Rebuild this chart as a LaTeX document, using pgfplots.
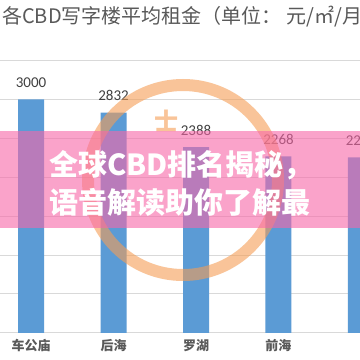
\documentclass[border=0pt]{standalone}
\usepackage{fontspec}
\setmainfont{Noto Sans CJK SC}
\newfontfamily\numfont{Carlito}
\usepackage{pgfplots}
\pgfplotsset{compat=1.18}

\definecolor{barblue}{RGB}{91,155,213}
\definecolor{gridgray}{RGB}{217,217,217}
\definecolor{labelgray}{RGB}{89,89,89}
\definecolor{valgray}{RGB}{64,64,64}
\definecolor{bandpink}{RGB}{248,103,168}
\definecolor{ringorange}{RGB}{245,158,85}

\begin{document}
\begin{tikzpicture}[x=1pt,y=1pt]
\clip (0,0) rectangle (360,360);
\fill[white] (0,0) rectangle (360,360);

% chart title, runs past the right edge
\node[anchor=west, inner sep=0pt, text=labelgray, font=\fontsize{20}{20}\selectfont]
  at (2,343) {各CBD写字楼平均租金（单位： 元/㎡/月）};

\begin{axis}[
  at={(0,35)}, anchor=south west,
  scale only axis, width=360pt, height=272.2pt,
  xmin=-0.376, xmax=3.988,
  ymin=0, ymax=3500,
  ytick={0,500,...,3500},
  yticklabels={},
  ymajorgrids, grid style={gridgray, line width=0.8pt},
  axis x line*=bottom, axis y line*=left,
  y axis line style={draw=none},
  x axis line style={gridgray, line width=0.8pt},
  xtick={0,1,2,3,4},
  xticklabels={车公庙,后海,罗湖,前海,宝安},
  major tick length=0pt,
  xticklabel style={text=labelgray, font=\fontsize{13}{13}\selectfont\bfseries, yshift=-3pt},
  ybar, bar width=26pt,
  nodes near coords,
  /pgf/number format/assume math mode=true,
  /pgf/number format/1000 sep={},
  every node near coord/.append style={anchor=south, inner sep=0pt, yshift=11.5pt,
    text=valgray, font=\numfont\fontsize{15}{15}\selectfont},
  clip=false,
]
\addplot[fill=barblue, draw=none] coordinates {(0,3000) (1,2832) (2,2388) (3,2268) (4,2255)};
\end{axis}

% watermark logo
\draw[ringorange, opacity=0.6, line width=12pt] (183,180) circle (95);
\node[text=ringorange, opacity=0.6, font=\fontsize{24}{24}\selectfont\bfseries] at (167,239) {士};

% banner
\fill[bandpink, opacity=0.6] (0,132) rectangle (360,229);
\node[text=white, font=\fontsize{29}{29}\selectfont\bfseries] at (181,195) {全球CBD排名揭秘，};
\node[text=white, font=\fontsize{29}{29}\selectfont\bfseries] at (180,158) {语音解读助你了解最};
\end{tikzpicture}
\end{document}
